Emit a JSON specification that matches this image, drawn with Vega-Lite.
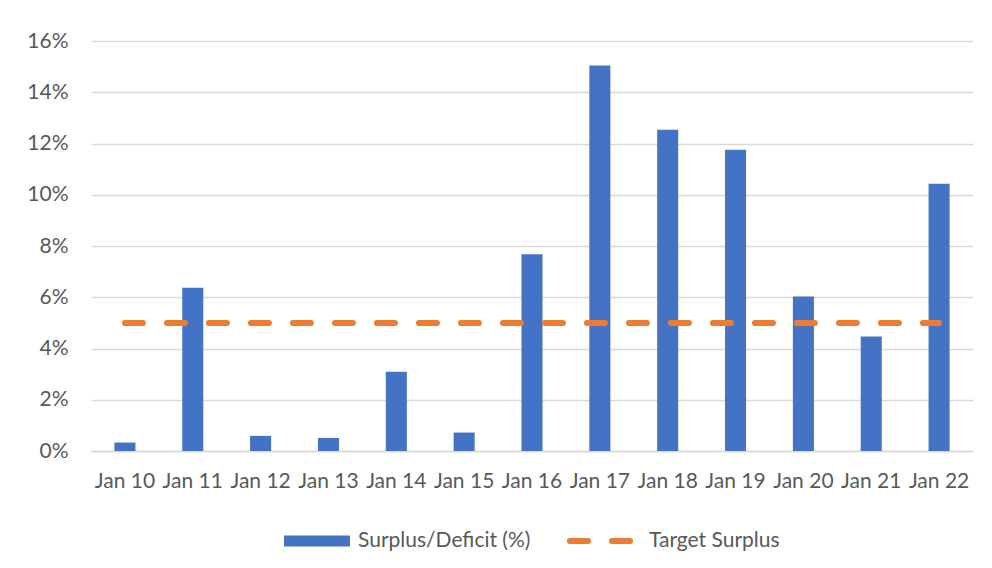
{
  "$schema": "https://vega.github.io/schema/vega-lite/v6.json",
  "width": 882,
  "height": 410,
  "autosize": {"type": "none"},
  "padding": {"left": 91, "top": 41, "right": 19, "bottom": 117},
  "background": "white",
  "data": {
    "values": [
      {"date": "Jan 10", "value": 0.0033, "target": 0.05},
      {"date": "Jan 11", "value": 0.0637, "target": 0.05},
      {"date": "Jan 12", "value": 0.0059, "target": 0.05},
      {"date": "Jan 13", "value": 0.0051, "target": 0.05},
      {"date": "Jan 14", "value": 0.0309, "target": 0.05},
      {"date": "Jan 15", "value": 0.0072, "target": 0.05},
      {"date": "Jan 16", "value": 0.0768, "target": 0.05},
      {"date": "Jan 17", "value": 0.1504, "target": 0.05},
      {"date": "Jan 18", "value": 0.1254, "target": 0.05},
      {"date": "Jan 19", "value": 0.1176, "target": 0.05},
      {"date": "Jan 20", "value": 0.0603, "target": 0.05},
      {"date": "Jan 21", "value": 0.0447, "target": 0.05},
      {"date": "Jan 22", "value": 0.1043, "target": 0.05}
    ]
  },
  "encoding": {
    "x": {
      "field": "date",
      "type": "ordinal",
      "sort": null,
      "scale": {"paddingInner": 0.69, "paddingOuter": 0.345},
      "axis": {
        "title": null,
        "labelAngle": 0,
        "ticks": false,
        "domain": true,
        "domainColor": "#d9d9d9",
        "domainWidth": 1.5,
        "labelPadding": 19,
        "labelFontSize": 21,
        "labelFont": "Lato",
        "labelColor": "#595959"
      }
    }
  },
  "layer": [
    {
      "mark": {"type": "bar", "color": "#4472C4"},
      "encoding": {
        "y": {
          "field": "value",
          "type": "quantitative",
          "scale": {"domain": [0, 0.16], "nice": false},
          "axis": {
            "title": null,
            "values": [0, 0.02, 0.04, 0.06, 0.08, 0.1, 0.12, 0.14, 0.16],
            "format": ".0%",
            "domain": false,
            "ticks": false,
            "grid": true,
            "gridColor": "#d9d9d9",
            "gridWidth": 1.5,
            "labelPadding": 23,
            "labelFontSize": 21,
            "labelFont": "Lato",
            "labelColor": "#595959"
          }
        },
        "fill": {
          "datum": "Surplus/Deficit (%)",
          "scale": {"range": ["#4472C4"]},
          "legend": {
            "title": null,
            "orient": "bottom",
            "direction": "horizontal",
            "symbolType": "M-1,-0.17h2v0.34h-2z",
            "symbolSize": 4356,
            "symbolStrokeWidth": 0,
            "labelOffset": 8,
            "labelLimit": 0,
            "labelFontSize": 21,
            "labelFont": "Lato",
            "labelColor": "#595959",
            "offset": 17
          }
        }
      }
    },
    {
      "mark": {"type": "line", "strokeWidth": 6, "strokeDash": [18, 24], "strokeCap": "round"},
      "encoding": {
        "y": {"field": "target", "type": "quantitative"},
        "stroke": {
          "datum": "Target Surplus",
          "scale": {"range": ["#ED7D31"]},
          "legend": {
            "title": null,
            "orient": "bottom",
            "direction": "horizontal",
            "symbolType": "stroke",
            "symbolSize": 3600,
            "symbolStrokeWidth": 6,
            "symbolDash": [18, 24],
            "labelOffset": 16,
            "labelLimit": 0,
            "labelFontSize": 21,
            "labelFont": "Lato",
            "labelColor": "#595959",
            "offset": 17,
            "encode": {"symbols": {"update": {"strokeCap": {"value": "round"}}}}
          }
        }
      }
    }
  ],
  "config": {
    "view": {"stroke": null},
    "legend": {"layout": {"bottom": {"anchor": "middle", "direction": "horizontal", "margin": 36}}}
  }
}
